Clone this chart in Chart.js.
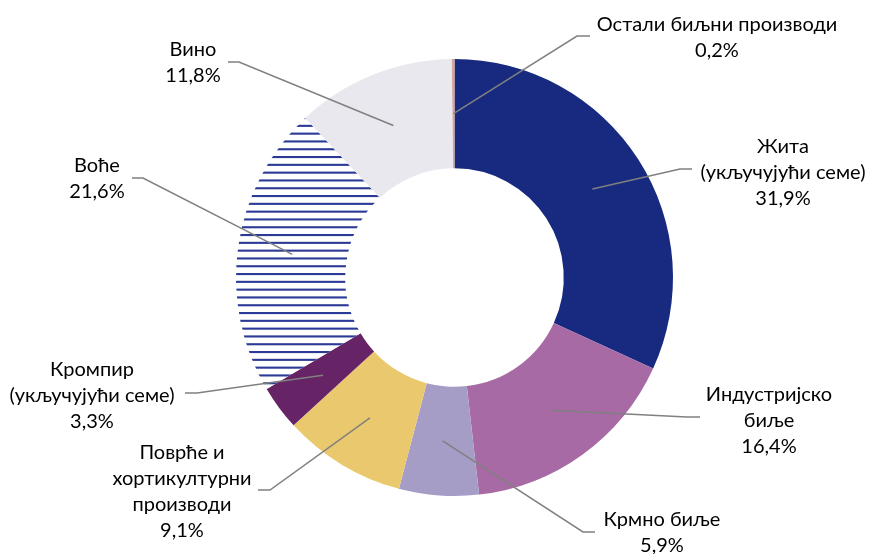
<!DOCTYPE html>
<html>
<head>
<meta charset="utf-8">
<script src="https://cdn.jsdelivr.net/npm/chart.js@4.4.1/dist/chart.umd.min.js"></script>
<style>
  html, body { margin: 0; padding: 0; background: #ffffff; }
  #wrap { width: 870px; height: 554px; }
</style>
</head>
<body>
<div id="wrap"><canvas id="c" width="870" height="554"></canvas></div>
<script>
// ---- Data ----
const categories = [
  "Жита\n(укључујући семе)",
  "Индустријско\nбиље",
  "Крмно биље",
  "Поврће и\nхортикултурни\nпроизводи",
  "Кромпир\n(укључујући семе)",
  "Воће",
  "Вино",
  "Остали биљни производи"
];
const shares = [31.9, 16.4, 5.9, 9.1, 3.3, 21.6, 11.8, 0.2];

// ---- Styles ----
const sliceColors = ["#172a80", "#a86aa4", "#a69dc6", "#eac96e", "#662366", null, "#e9e8ee", "#d6a49a"];
const stripeColor = "#2b3a96";

// ---- Label layout (label centre x, first line y, knee point, end point) ----
const labelLayout = [
  { cx: 783, y: 147, knee: [680, 169], end: [692, 169] },
  { cx: 769, y: 395, knee: [687, 417], end: [700, 417] },
  { cx: 662, y: 520, knee: [583, 532], end: [595, 532] },
  { cx: 182, y: 453, knee: [270, 490], end: [258, 490] },
  { cx: 92,  y: 370, knee: [197, 393], end: [185, 393] },
  { cx: 97,  y: 166, knee: [143, 178], end: [132, 178] },
  { cx: 193, y: 50,  knee: [239, 62],  end: [228, 62] },
  { cx: 717, y: 25,  knee: [577, 36],  end: [590, 36] }
];
const lineHeight = 25.8;
const labelFont = '20px Lato, "Open Sans", sans-serif';

function makeStripePattern() {
  const p = document.createElement('canvas');
  p.width = 8; p.height = 39;
  const g = p.getContext('2d');
  g.fillStyle = '#ffffff';
  g.fillRect(0, 0, 8, 39);
  g.fillStyle = stripeColor;
  for (let k = 0; k < 5; k++) {
    g.fillRect(0, k * 7.8, 8, 2.1);
  }
  return document.getElementById('c').getContext('2d').createPattern(p, 'repeat');
}
const colors = sliceColors.map(c => c === null ? makeStripePattern() : c);

const fmt = v => v.toFixed(1).replace('.', ',') + '%';

const leaderLabels = {
  id: 'leaderLabels',
  afterDatasetsDraw(chart) {
    const ctx = chart.ctx;
    const meta = chart.getDatasetMeta(0);
    ctx.save();
    meta.data.forEach((arc, i) => {
      const p = arc.getProps(['x', 'y', 'startAngle', 'endAngle', 'innerRadius', 'outerRadius'], true);
      const mid = (p.startAngle + p.endAngle) / 2;
      const r = (p.innerRadius + p.outerRadius) / 2;
      const sx = p.x + r * Math.cos(mid);
      const sy = p.y + r * Math.sin(mid);
      const L = labelLayout[i];
      ctx.strokeStyle = '#808080';
      ctx.lineWidth = 1.5;
      ctx.beginPath();
      ctx.moveTo(sx, sy);
      ctx.lineTo(L.knee[0], L.knee[1]);
      ctx.lineTo(L.end[0], L.end[1]);
      ctx.stroke();

      const lines = categories[i].split('\n').concat([fmt(shares[i])]);
      ctx.fillStyle = '#000000';
      ctx.font = labelFont;
      ctx.textAlign = 'center';
      ctx.textBaseline = 'middle';
      lines.forEach((t, k) => ctx.fillText(t, L.cx, L.y + k * lineHeight));
    });
    ctx.restore();
  }
};

new Chart(document.getElementById('c'), {
  type: 'doughnut',
  data: {
    labels: categories,
    datasets: [{
      data: shares,
      backgroundColor: colors,
      borderWidth: 0
    }]
  },
  options: {
    responsive: false,
    animation: false,
    cutout: '50%',
    rotation: 0,
    layout: { padding: { top: 59, bottom: 58, left: 236, right: 197 } },
    plugins: {
      legend: { display: false },
      tooltip: { enabled: false }
    }
  },
  plugins: [leaderLabels]
});
</script>
</body>
</html>
